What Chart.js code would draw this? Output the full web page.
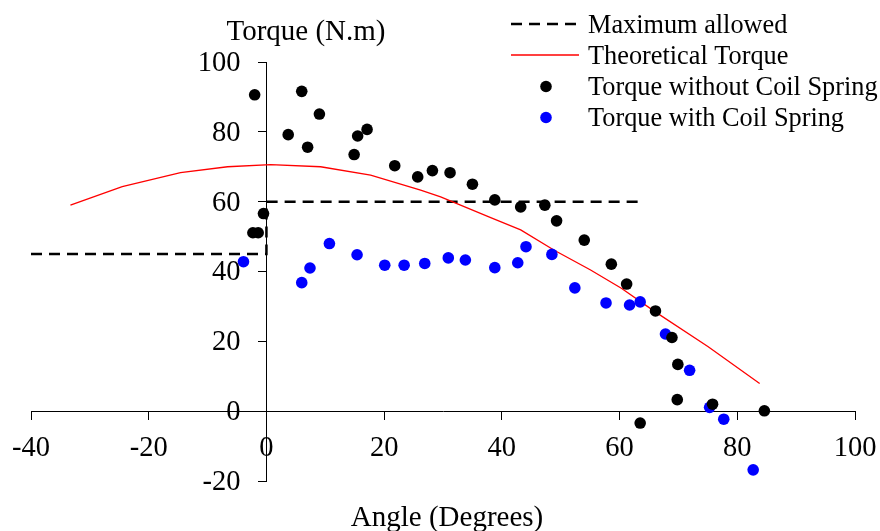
<!DOCTYPE html>
<html>
<head>
<meta charset="utf-8">
<script src="https://cdn.jsdelivr.net/npm/chart.js@4.4.1/dist/chart.umd.min.js"></script>
<style>
  html, body { margin: 0; padding: 0; background: #fff; }
  #wrap { width: 880px; height: 531px; position: relative; }
</style>
</head>
<body>
<div id="wrap"><canvas id="chart" width="880" height="531"></canvas></div>
<script>
// data
const withoutAngle = [-2.0, 6.0, 9.0, 3.7, 7.0, 14.9, 15.5, 17.1, 21.8, 25.7, 28.2, -0.5, -2.3, -1.4,
  31.2, 35.0, 38.8, 43.2, 47.3, 49.3, 54.0, 58.6, 61.2, 66.1, 68.9, 69.9, 69.8, 63.5, 75.8, 84.6];
const withoutTorque = [90.6, 91.6, 85.1, 79.2, 75.6, 73.5, 78.8, 80.7, 70.3, 67.1, 68.9, 56.6, 51.1, 51.1,
  68.3, 65.0, 60.5, 58.5, 59.0, 54.5, 49.0, 42.1, 36.4, 28.7, 21.1, 13.4, 3.3, -3.4, 2.0, 0.1];

const withAngle = [-3.9, 10.7, 15.4, 7.4, 6.0, 20.1, 23.4, 26.9, 30.9, 33.8, 38.8, 42.7, 44.1, 48.5,
  52.4, 57.7, 61.7, 63.5, 67.8, 71.9, 75.3, 77.7, 82.7];
const withTorque = [42.8, 48.0, 44.8, 41.0, 36.8, 41.8, 41.8, 42.3, 43.9, 43.3, 41.1, 42.5, 47.1, 44.9,
  35.3, 31.0, 30.4, 31.3, 22.1, 11.7, 1.1, -2.3, -16.8];

const theoAngle = [-33.3, -24.5, -14.6, -6.6, 0.7, 9.2, 17.7, 26.2, 29.6, 38.0, 43.2, 48.9, 55.0, 60.3, 66.0, 75.0, 83.8];
const theoTorque = [59.0, 64.3, 68.3, 70.0, 70.6, 70.0, 67.6, 63.3, 61.4, 55.5, 51.9, 46.1, 40.5, 35.2, 28.5, 18.5, 7.9];

const maxAngle = [-40, 0, 0, 63.5];
const maxTorque = [45, 45, 60, 60];

const xTicks = [-40, -20, 0, 20, 40, 60, 80, 100];
const yTicks = [-20, 0, 20, 40, 60, 80, 100];

const labels = ['Maximum allowed', 'Theoretical Torque', 'Torque without Coil Spring', 'Torque with Coil Spring'];

const FONT = '"Liberation Serif", "Times New Roman", serif';

function pts(xs, ys) {
  return xs.map((x, i) => ({ x: x, y: ys[i] }));
}

// tick labels, axis titles and legend, drawn on the canvas
const decorations = {
  id: 'decorations',
  afterDraw(chart) {
    const ctx = chart.ctx;
    const xs = chart.scales.x, ys = chart.scales.y;
    const axisX = xs.getPixelForValue(0);
    const axisY = ys.getPixelForValue(0);
    ctx.save();
    ctx.fillStyle = '#000';

    // tick labels sit beside the crossing axes
    ctx.font = '28.5px ' + FONT;
    ctx.textBaseline = 'middle';
    ctx.textAlign = 'right';
    yTicks.forEach(v => {
      ctx.fillText(String(v), axisX - 26, ys.getPixelForValue(v) + 1.5);
    });
    ctx.textAlign = 'center';
    xTicks.forEach(v => {
      ctx.fillText(String(v), xs.getPixelForValue(v), axisY + 37);
    });

    ctx.font = '29px ' + FONT;
    ctx.textBaseline = 'alphabetic';
    ctx.fillText('Torque (N.m)', 306, 39.5);
    ctx.fillText('Angle (Degrees)', 447, 526);

    // legend
    const ds = chart.data.datasets;
    const rows = [24, 55, 86.5, 117.5];
    ctx.font = '26.3px ' + FONT;
    ctx.textAlign = 'left';
    rows.forEach((cy, i) => {
      const d = ds.find(s => s.label === labels[i]);
      if (d.showLine) {
        ctx.beginPath();
        ctx.strokeStyle = d.borderColor;
        ctx.lineWidth = d.borderWidth;
        ctx.setLineDash(d.borderDash || []);
        ctx.moveTo(511, cy);
        ctx.lineTo(579, cy);
        ctx.stroke();
        ctx.setLineDash([]);
      } else {
        ctx.beginPath();
        ctx.fillStyle = d.backgroundColor;
        ctx.arc(546, cy, d.pointRadius, 0, Math.PI * 2);
        ctx.fill();
      }
      ctx.fillStyle = '#000';
      ctx.fillText(labels[i], 588, cy + 8.5);
    });
    ctx.restore();
  }
};

new Chart(document.getElementById('chart'), {
  type: 'scatter',
  data: {
    datasets: [
      {
        label: labels[2],
        data: pts(withoutAngle, withoutTorque),
        backgroundColor: '#000000',
        borderWidth: 0,
        pointRadius: 5.8,
        showLine: false,
        order: 0
      },
      {
        label: labels[3],
        data: pts(withAngle, withTorque),
        backgroundColor: '#0000ff',
        borderWidth: 0,
        pointRadius: 5.8,
        showLine: false,
        order: 1
      },
      {
        label: labels[1],
        data: pts(theoAngle, theoTorque),
        borderColor: '#ff0000',
        borderWidth: 1.3,
        pointRadius: 0,
        showLine: true,
        order: 2
      },
      {
        label: labels[0],
        data: pts(maxAngle, maxTorque),
        borderColor: '#000000',
        borderWidth: 2.5,
        borderDash: [11, 7],
        pointRadius: 0,
        showLine: true,
        order: 3
      }
    ]
  },
  options: {
    responsive: false,
    animation: false,
    layout: { padding: { left: 31, right: 25, top: 62, bottom: 50 } },
    plugins: {
      legend: { display: false },
      tooltip: { enabled: false }
    },
    scales: {
      x: {
        type: 'linear',
        position: { y: 0 },
        min: xTicks[0],
        max: xTicks[xTicks.length - 1],
        afterBuildTicks: (axis) => { axis.ticks = xTicks.map(v => ({ value: v })); },
        grid: { drawOnChartArea: false, drawTicks: true, tickLength: 8, tickColor: '#000', tickWidth: 1 },
        border: { display: true, color: '#000', width: 1 },
        ticks: { display: false }
      },
      y: {
        type: 'linear',
        position: { x: 0 },
        min: yTicks[0],
        max: yTicks[yTicks.length - 1],
        afterBuildTicks: (axis) => { axis.ticks = yTicks.map(v => ({ value: v })); },
        grid: { drawOnChartArea: false, drawTicks: true, tickLength: 8, tickColor: '#000', tickWidth: 1 },
        border: { display: true, color: '#000', width: 1 },
        ticks: { display: false }
      }
    }
  },
  plugins: [decorations]
});
</script>
</body>
</html>
